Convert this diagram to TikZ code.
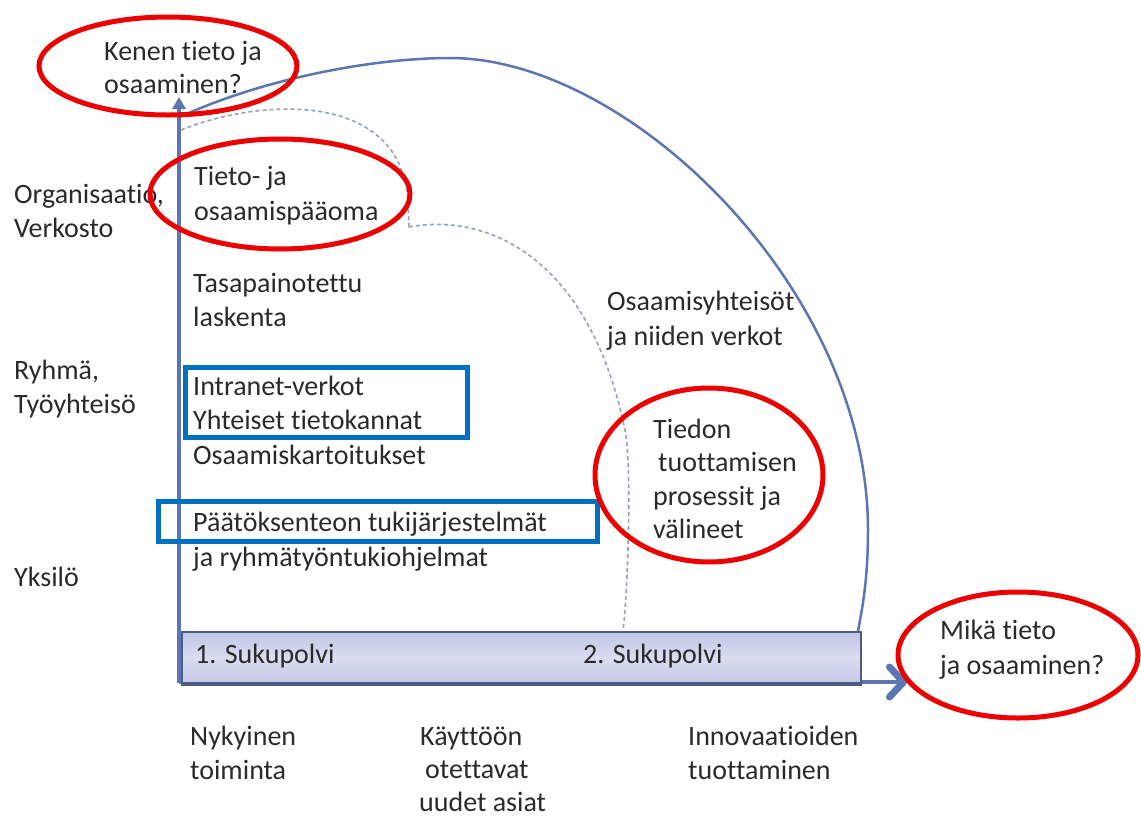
\documentclass[tikz,border=0pt]{standalone}
\usepackage{fontspec}
\setmainfont{Carlito}[Ligatures=NoCommon]
\usetikzlibrary{arrows.meta}

\definecolor{axisblue}{RGB}{91,118,179}
\definecolor{ringred}{RGB}{236,0,0}
\definecolor{boxblue}{RGB}{0,112,192}
\definecolor{txt}{RGB}{42,42,42}
\definecolor{dashgrey}{RGB}{150,160,182}
\definecolor{barline}{RGB}{78,92,132}
\definecolor{bartop}{RGB}{192,198,230}
\definecolor{barmid}{RGB}{218,221,240}
\definecolor{barbot}{RGB}{196,202,231}

% first-line strut: the node top sits 24pt above the first baseline
\newcommand\fl{\rule{0pt}{24pt}}

\tikzset{
  lbl/.style={anchor=north west, inner sep=0pt, align=left, text=txt,
              font=\fontsize{28}{34}\selectfont},
  ring/.style={draw=ringred, line width=5pt},
  hibox/.style={draw=boxblue, line width=5pt},
  axisline/.style={draw=axisblue, line width=3.5pt},
  zone/.style={draw=axisblue, line width=2.5pt},
  zonedash/.style={draw=dashgrey, line width=1.6pt, dash pattern=on 4pt off 3pt},
  genbar/.style={draw=barline, line width=2pt, inner sep=0pt,
                 top color=bartop, bottom color=barbot, middle color=barmid},
}

\begin{document}
\begin{tikzpicture}[x=1pt,y=-1pt]
\useasboundingbox (0,0) rectangle (1141,817);

% axes
\coordinate (origin) at (179,683);
\coordinate (ytip) at (179,97);
\coordinate (xtip) at (907,682);
\draw[axisline, -{Triangle[length=12pt,width=13pt]}] (origin) -- (ytip);
\draw[axisline, -{Straight Barb[length=14pt,width=30pt,line width=7pt,round]}]
  (179,682) -- (xtip);

% outer zone boundary (solid)
\draw[zone] (180,117) .. controls (260,80) and (370,58) .. (450,58)
  .. controls (630,58) and (868,290) .. (868,530)
  .. controls (868,580) and (862,610) .. (858,631);
% inner zone boundaries (dashed)
\draw[zonedash] (181,130) .. controls (260,98) and (400,90) .. (408,200) -- (409,227);
\draw[zonedash] (409,227) .. controls (490,212) and (590,260) .. (625,430)
  .. controls (632,464) and (628,590) .. (623,631);

% generation bar
\node[genbar, anchor=north west, minimum width=679pt, minimum height=51pt]
  (bar) at (181,631) {};
\draw[barline, line width=3pt] (bar.south west) -- (bar.south east);
\node[lbl] (gen1) at (195,639) {\fl 1. Sukupolvi};
\node[lbl] (gen2) at (583,639) {\fl 2. Sukupolvi};

% level labels on the left
\node[lbl] (org) at (14,179) {\fl Organisaatio,\\Verkosto};
\node[lbl] (grp) at (14,355) {\fl Ryhmä,\\Työyhteisö};
\node[lbl] (ind) at (14,562) {\fl Yksilö};

% axis questions
\node[lbl, font=\fontsize{28}{33}\selectfont] (who) at (104,36) {\fl Kenen tieto ja\\osaaminen?};
\node[lbl, font=\fontsize{28}{35}\selectfont] (what) at (940,615) {\fl Mikä tieto\\ja osaaminen?};

% contents of the zones
\node[lbl, font=\fontsize{28}{35}\selectfont] (cap) at (194,161) {\fl Tieto- ja\\osaamispääoma};
\node[lbl] (bal) at (193,268) {\fl Tasapainotettu\\laskenta};
\node[lbl, font=\fontsize{28}{35}\selectfont] (comm) at (607,286) {\fl Osaamisyhteisöt\\ja niiden verkot};
\node[lbl] (intra) at (193,371) {\fl Intranet-verkot\\Yhteiset tietokannat};
\node[lbl] (map) at (193,440) {\fl Osaamiskartoitukset};
\node[lbl, font=\fontsize{28}{33.5}\selectfont] (proc) at (653,414)
  {\fl Tiedon\\\hspace*{5pt}tuottamisen\\prosessit ja\\välineet};
\node[lbl, font=\fontsize{28}{35}\selectfont] (dss) at (193,507)
  {\fl Päätöksenteon tukijärjestelmät\\ja ryhmätyöntukiohjelmat};

% labels under the horizontal axis
\node[lbl] (now) at (190,721) {\fl Nykyinen\\toiminta};
\node[lbl, font=\fontsize{28}{33}\selectfont] (new) at (419,721)
  {\fl \hspace*{1pt}Käyttöön\\\hspace*{6pt}otettavat\\uudet asiat};
\node[lbl] (inno) at (688,721) {\fl Innovaatioiden\\tuottaminen};

% highlight boxes
\draw[hibox] (185,367) rectangle (467,437);
\draw[hibox] (158,501) rectangle (597,541);

% highlight rings
\draw[ring] (168,66) ellipse [x radius=129, y radius=49];
\draw[ring] (280,194) ellipse [x radius=130, y radius=55];
\draw[ring] (709,475) ellipse [x radius=114, y radius=87];
\draw[ring] (1018,655) ellipse [x radius=120, y radius=63];
\end{tikzpicture}
\end{document}
